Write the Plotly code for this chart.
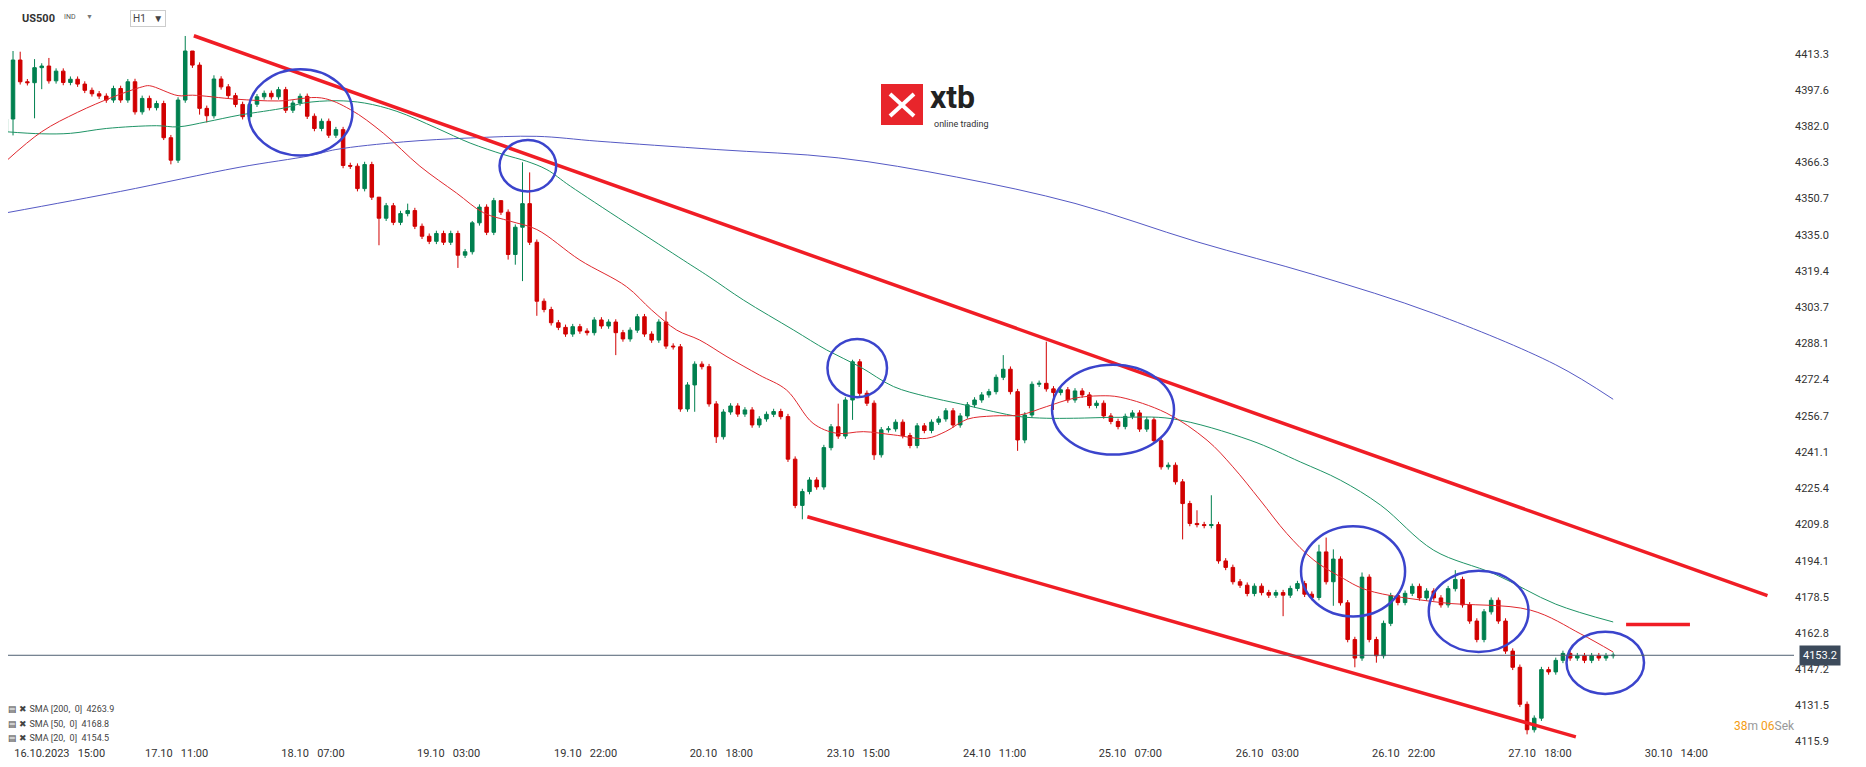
import plotly.graph_objects as go

# Hourly closes of US500 (open = previous close)
first_open = 4379.6
closes = [
    4385.1, 4410.6, 4401.2, 4400.8, 4407.3, 4408.0, 4401.6, 4405.8, 4400.9, 4402.3,
    4400.2, 4397.5, 4396.0, 4395.0, 4393.3, 4398.3, 4393.3, 4401.2, 4388.2, 4394.0,
    4390.0, 4391.8, 4377.0, 4367.3, 4393.3, 4414.5, 4408.4, 4389.7, 4386.5, 4402.4,
    4399.0, 4395.2, 4391.4, 4386.1, 4391.5, 4394.7, 4396.2, 4394.7, 4397.8,
    4388.9, 4392.0, 4394.9, 4386.3, 4381.0, 4384.1, 4378.1, 4380.5, 4365.0, 4364.7,
    4355.0, 4365.4, 4351.3, 4342.2, 4347.6, 4340.4, 4344.2, 4345.5, 4338.7, 4334.4,
    4332.2, 4335.6, 4331.8, 4335.6, 4326.2, 4327.7, 4340.2, 4347.0, 4336.1, 4349.8,
    4344.8, 4326.5, 4338.3, 4348.5, 4331.8, 4306.3, 4302.7,
    4297.0, 4295.0,
    4292.1, 4295.3, 4293.4, 4292.7, 4298.2, 4295.6, 4297.3, 4292.7, 4290.0, 4293.8,
    4299.6, 4292.1, 4289.5, 4297.3, 4286.9, 4286.6, 4259.7, 4270.1, 4279.1, 4278.0,
    4261.9, 4247.7, 4258.4, 4261.0, 4257.5, 4259.3, 4252.8, 4255.4, 4257.4, 4258.6,
    4256.4, 4238.0,
    4218.0, 4224.0, 4229.0, 4226.0, 4243.0, 4252.0, 4248.0, 4263.6, 4280.1,
    4266.5, 4262.2, 4239.9, 4250.7, 4251.1, 4254.0, 4248.2, 4243.9, 4252.4, 4250.4,
    4254.0, 4255.4, 4258.9, 4252.8, 4256.7, 4261.5, 4263.6, 4265.8, 4267.2, 4273.4,
    4276.9, 4267.2, 4246.3, 4257.1, 4270.4, 4270.8, 4268.4, 4266.8, 4268.0, 4263.6,
    4267.5, 4265.8, 4261.2, 4262.2, 4256.7, 4254.3, 4252.1,
    4256.5, 4258.0, 4251.0, 4255.0, 4246.0,
    4234.7, 4235.4, 4228.2, 4218.8, 4210.2, 4209.7, 4209.3, 4209.7, 4194.0, 4191.2,
    4185.0, 4183.5, 4179.9, 4183.1, 4180.3, 4179.2, 4180.3, 4179.2, 4182.1, 4184.2,
    4179.6, 4178.2, 4197.9, 4185.0, 4194.8, 4175.9,
    4160.0, 4152.0, 4187.0, 4160.0, 4153.0, 4167.0, 4179.0, 4176.0, 4180.0, 4183.0,
    4178.0, 4181.0, 4178.0, 4175.0, 4182.0, 4186.0, 4175.0, 4168.0, 4160.0, 4172.0,
    4177.0, 4168.0, 4155.0, 4148.0, 4132.0, 4121.0, 4126.0, 4147.0, 4146.0, 4151.0,
    4154.0, 4152.0, 4153.0, 4151.0, 4153.0, 4152.0, 4153.0, 4153.2,
]

# Long wicks (candle index -> price); other candles get a short default wick
long_highs = {1: 4414.5, 2: 4414.2, 4: 4411.0, 6: 4411.5, 18: 4402.5, 25: 4421.0,
              26: 4411.0, 29: 4404.0, 52: 4348.0, 56: 4348.5, 65: 4341.0, 69: 4349.0,
              72: 4366.4, 73: 4362.0, 92: 4301.8, 116: 4262.0, 118: 4281.0, 139: 4283.0,
              145: 4288.8, 166: 4215.9, 168: 4222.4, 183: 4201.0, 184: 4204.1,
              185: 4199.0, 189: 4189.0, 202: 4190.0}
long_lows = {0: 4375.0, 1: 4378.0, 4: 4385.4, 5: 4398.0, 22: 4376.0, 23: 4365.5,
             27: 4387.0, 28: 4383.6, 52: 4330.5, 63: 4320.7, 70: 4324.3, 71: 4322.1,
             72: 4315.0, 74: 4300.0, 85: 4283.0, 96: 4258.5, 99: 4245.0, 111: 4212.0,
             118: 4255.0, 121: 4237.7, 141: 4241.6, 142: 4244.9, 146: 4259.3,
             164: 4203.3, 178: 4170.1, 185: 4174.6, 188: 4148.0, 191: 4150.0, 212: 4119.0}
short_wick = 1.2

# Moving averages sampled from the chart: (candle index, price)
sma20_idx = [0, 5, 10, 15, 19, 20, 24, 26, 32, 38, 44, 48, 52.6, 57.7, 62.8, 66.6, 70.3, 74,
             80, 86.5, 90, 93.5, 96.7, 100.5, 105, 108.8, 112.5, 115.8, 119.5, 123.7, 128.3,
             131, 134, 137.6, 141.3, 145, 148.8, 152.5, 155.3, 161.7, 167.4, 171, 174.8,
             178.5, 182.3, 186, 189.7, 200, 212.5, 219.5, 224]
sma20_val = [4366.8, 4379.6, 4388.0, 4394.7, 4399.0, 4399.5, 4395.2, 4395.4, 4393.7, 4392.9,
             4394.2, 4389.2, 4379.0, 4364.7, 4353.1, 4344.5, 4340.9, 4337.3, 4324.1, 4312.6,
             4302.5, 4293.8, 4289.5, 4282.3, 4274.4, 4267.9, 4253.5, 4249.2, 4249.9, 4248.5,
             4247.0, 4250.0, 4255.3, 4256.7, 4257.1, 4260.7, 4264.3, 4265.4, 4264.8, 4258.0,
             4246.2, 4234.7, 4220.3, 4205.9, 4194.3, 4187.1, 4181.4, 4176.0, 4172.7, 4162.4,
             4154.6]
sma50_idx = [0, 5, 9, 14, 21, 24, 28, 32.6, 39, 41.5, 46, 50, 54.5, 60, 64.7, 69.4, 72.6,
             75.4, 78.7, 94.4, 98, 102.8, 109.8, 114.4, 119, 123.7, 128.3, 133, 137.6, 141.3,
             145, 148.8, 155.3, 162.5, 173.4, 180.4, 186, 191.6, 199, 207.5, 216, 224]
sma50_val = [4379.6, 4378.7, 4378.9, 4381.0, 4382.2, 4381.7, 4383.9, 4386.8, 4390.0, 4392.0,
             4393.0, 4392.0, 4388.4, 4381.2, 4374.7, 4369.7, 4366.8, 4363.2, 4356.0, 4324.1,
             4316.9, 4306.8, 4293.8, 4285.2, 4278.0, 4269.4, 4265.1, 4261.9, 4258.6, 4256.4,
             4255.7, 4255.7, 4256.1, 4255.5, 4246.2, 4236.8, 4228.9, 4218.1, 4198.6, 4188.3,
             4175.3, 4167.6]
sma200_idx = [0, 16, 32.5, 42.5, 46, 55.4, 64.7, 74, 82.5, 99, 116, 132.5, 149, 166,
              182.5, 199, 216, 224]
sma200_val = [4344.5, 4353.8, 4364.2, 4369.3, 4371.9, 4375.2, 4376.9, 4377.6, 4375.5, 4371.9,
              4368.3, 4360.0, 4348.6, 4332.0, 4317.6, 4301.0, 4278.8, 4263.9]

# Trend channel drawn on the chart
upper_line = ([26.2, 245.5], [4421.1, 4179.0])
lower_line = ([111.7, 218.8], [4213.1, 4117.9])
target_line = ([225.8, 234.7], [4166.5, 4166.5])
last_price = 4153.2

# Highlight circles: (idx0, idx1, price_low, price_high)
circles = [(33.8, 48.3, 4369.3, 4406.6), (68.8, 76.7, 4353.8, 4376.0),
           (114.5, 122.8, 4264.8, 4290.0), (145.8, 162.8, 4240.0, 4278.8),
           (180.5, 195.0, 4170.0, 4209.0), (198.3, 212.2, 4154.6, 4189.8),
           (217.5, 228.3, 4136.5, 4163.4)]

y_ticks = [4413.3, 4397.6, 4382.0, 4366.3, 4350.7, 4335.0, 4319.4, 4303.7, 4288.1, 4272.4,
           4256.7, 4241.1, 4225.4, 4209.8, 4194.1, 4178.5, 4162.8, 4147.2, 4131.5, 4115.9]
x_tick_pos = [7.5, 23.8, 42.8, 61.7, 80.8, 99.7, 118.8, 137.8, 156.7, 175.8, 194.8, 213.8, 232.8]
x_tick_text = ["16.10.2023   15:00", "17.10   11:00", "18.10   07:00", "19.10   03:00",
               "19.10   22:00", "20.10   18:00", "23.10   15:00", "24.10   11:00",
               "25.10   07:00", "26.10   03:00", "26.10   22:00", "27.10   18:00",
               "30.10   14:00"]

n = len(closes)
idx = list(range(n))
opens = [first_open] + closes[:-1]
highs = [long_highs.get(i, max(opens[i], closes[i]) + short_wick) for i in idx]
lows = [long_lows.get(i, min(opens[i], closes[i]) - short_wick) for i in idx]

# page has an 8px body margin, so the figure is a bit smaller than the window
OFF = 8
W, H = 1858, 759
L, R, T, B = 0, 72, 0, 22
PW, PH = W - L - R, H - T - B


def px(x):
    return (x - OFF - L) / PW


def py(y):
    return (OFF + T + PH - y) / PH


fig = go.Figure()
fig.add_trace(go.Scatter(x=sma200_idx, y=sma200_val, mode="lines", line=dict(color="#5559c4", width=1, shape="spline")))
fig.add_trace(go.Scatter(x=sma50_idx, y=sma50_val, mode="lines", line=dict(color="#1f9466", width=1, shape="spline")))
fig.add_trace(go.Scatter(x=sma20_idx, y=sma20_val, mode="lines", line=dict(color="#e0282e", width=1, shape="spline")))
fig.add_trace(go.Candlestick(
    x=idx, open=opens, high=highs, low=lows, close=closes,
    increasing=dict(line=dict(color="#00804f", width=1), fillcolor="#00804f"),
    decreasing=dict(line=dict(color="#d10000", width=1), fillcolor="#d10000"),
    whiskerwidth=0,
))
for xs, ys in (upper_line, lower_line, target_line):
    fig.add_trace(go.Scatter(x=xs, y=ys, mode="lines", line=dict(color="#f01d25", width=3.5)))

shapes = []
for x0, x1, y0, y1 in circles:
    shapes.append(dict(type="circle", xref="x", yref="y", x0=x0, x1=x1, y0=y0, y1=y1,
                       line=dict(color="#3b44cc", width=2.5)))
shapes.append(dict(type="line", xref="paper", yref="y", x0=0, x1=1, y0=last_price, y1=last_price,
                   line=dict(color="#4f6072", width=1)))
# logo: red square with a white cross
shapes.append(dict(type="rect", xref="paper", yref="paper", x0=px(881), x1=px(923), y0=py(125), y1=py(84),
                   fillcolor="#e8252b", line=dict(width=0)))
shapes.append(dict(type="line", xref="paper", yref="paper", x0=px(890), x1=px(914), y0=py(94), y1=py(116),
                   line=dict(color="white", width=4)))
shapes.append(dict(type="line", xref="paper", yref="paper", x0=px(890), x1=px(914), y0=py(116), y1=py(94),
                   line=dict(color="white", width=4)))

ann = [
    dict(x=px(928), y=py(97), text="<b>xtb</b>", xanchor="left",
         font=dict(size=32, color="#222", family="Roboto")),
    dict(x=px(932), y=py(124), text="online trading", xanchor="left",
         font=dict(size=9, color="#333")),
    dict(x=px(20), y=py(18), text="<b>US500</b>", xanchor="left", font=dict(size=11, color="#333")),
    dict(x=px(62), y=py(17), text="IND", xanchor="left", font=dict(size=7, color="#555")),
    dict(x=px(84), y=py(17), text="▼", xanchor="left", font=dict(size=7, color="#777")),
    dict(x=px(130), y=py(18), text="H1   ▼", xanchor="left", font=dict(size=10, color="#444"),
         bordercolor="#ccc", borderwidth=1, borderpad=2),
    dict(x=1.003, y=last_price, yref="y", text="4153.2", xanchor="left",
         font=dict(size=11, color="white"), bgcolor="#3c4a5b", borderpad=3),
    dict(x=px(1732), y=py(726), text="<span style='color:#f39c12'>38</span>m <span style='color:#f39c12'>06</span>Sek",
         xanchor="left", font=dict(size=12, color="#999")),
]
legend_rows = [("SMA [200,  0]  4263.9", 709), ("SMA [50,  0]  4168.8", 724), ("SMA [20,  0]  4154.5", 738)]
for txt, yy in legend_rows:
    ann.append(dict(x=px(6), y=py(yy), text="▤ ✖ " + txt, xanchor="left", font=dict(size=9, color="#444")))
for a in ann:
    a.setdefault("xref", "paper")
    a.setdefault("yref", "paper")
    a.setdefault("yanchor", "middle")
    a["showarrow"] = False

fig.update_layout(
    width=W, height=H, margin=dict(l=L, r=R, t=T, b=B),
    paper_bgcolor="white", plot_bgcolor="white", showlegend=False,
    font=dict(family="Roboto", size=11, color="#333"),
    shapes=shapes, annotations=ann,
    xaxis=dict(range=[0.3, 249.2], tickvals=x_tick_pos, ticktext=x_tick_text, showgrid=False,
               zeroline=False, rangeslider=dict(visible=False), ticks="", tickfont=dict(size=11)),
    yaxis=dict(range=[4114.4, 4433.1], side="right", tickvals=y_ticks, ticktext=[f"{v:.1f}" for v in y_ticks],
               showgrid=False, zeroline=False, ticks="", tickfont=dict(size=11)),
)

fig.write_html("out.html")
